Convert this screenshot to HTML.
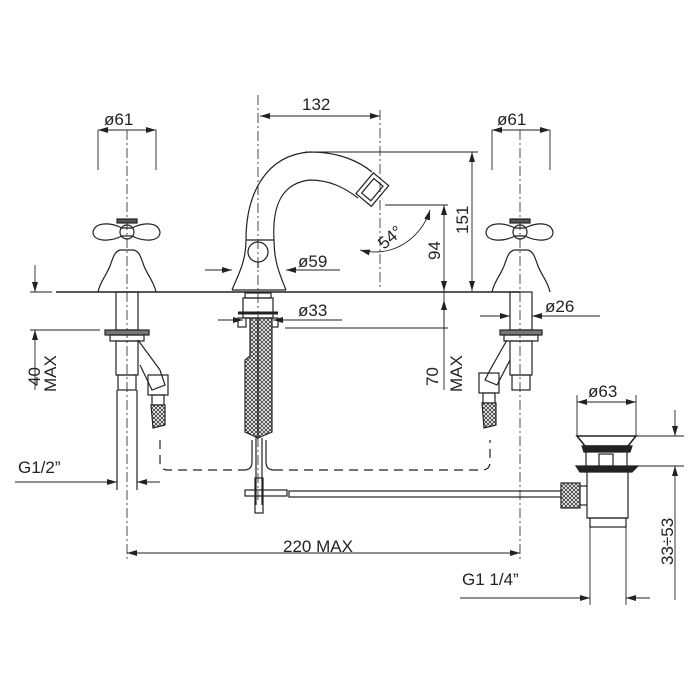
<!DOCTYPE html>
<html><head><style>body{margin:0;background:#fff}svg{display:block}text{font-family:"Liberation Sans",sans-serif;font-size:17px;fill:#222}</style></head><body>
<svg width="700" height="700" viewBox="0 0 700 700" xmlns="http://www.w3.org/2000/svg">
<defs>
<marker id="a" viewBox="0 0 10 6" refX="10" refY="3" markerWidth="10" markerHeight="6" orient="auto-start-reverse" markerUnits="userSpaceOnUse"><path d="M0,0L10,3L0,6z" fill="#222"/></marker>
<pattern id="h" width="4" height="4" patternUnits="userSpaceOnUse"><rect width="4" height="4" fill="#fff"/><path d="M0,0L4,4M4,0L0,4" stroke="#333" stroke-width="0.8"/></pattern>
</defs>
<g fill="none" stroke="#222" stroke-width="1.2">
<line x1="56" y1="292" x2="520" y2="292" stroke-width="1.6"/>
<g stroke-dasharray="10,3,2,3" stroke-width="0.8">
<line x1="127" y1="130" x2="127" y2="560"/><line x1="258" y1="95" x2="258" y2="500"/><line x1="520" y1="130" x2="520" y2="560"/><line x1="380" y1="110" x2="380" y2="290"/>
</g>
<!-- left tap -->
<path d="M98,292 C100,282 106,276 110,266 C113,258 114,252 120,250 L134,250 C140,252 141,258 144,266 C148,276 154,282 156,292"/>
<path d="M122,228 C110,222 95,222 93,232 C93,242 110,242 122,236 L132,236 C144,242 160,242 160,232 C158,222 144,222 132,228 Z"/>
<circle cx="127" cy="232" r="7"/><rect x="117" y="219" width="20" height="4" fill="#555"/>
<rect x="116" y="292" width="22" height="38"/><rect x="105" y="330" width="44" height="5" fill="#777"/>
<rect x="110" y="335" width="34" height="6"/><rect x="116" y="341" width="22" height="34"/><rect x="118" y="375" width="18" height="15"/>
<line x1="117" y1="390" x2="117" y2="490"/><line x1="137" y1="390" x2="137" y2="490"/>
<path d="M138,340 L160,370 L165,385 L152,390 L140,365"/>
<rect x="148" y="375" width="20" height="20"/><rect x="152" y="395" width="12" height="10"/>
<path d="M151,405 L165,405 L165,425 L153,428Z" fill="url(#h)"/>
<!-- right tap -->
<path d="M492,292 C494,282 500,276 504,266 C507,258 508,252 514,250 L528,250 C534,252 535,258 538,266 C542,276 548,282 550,292"/>
<path d="M515,228 C503,222 488,222 486,232 C486,242 503,242 515,236 L525,236 C537,242 553,242 553,232 C551,222 537,222 525,228 Z"/>
<circle cx="520" cy="232" r="7"/><rect x="510" y="219" width="20" height="4" fill="#555"/>
<rect x="510" y="292" width="22" height="38"/><rect x="500" y="330" width="42" height="5" fill="#777"/>
<rect x="504" y="335" width="34" height="6"/><rect x="510" y="341" width="22" height="34"/><rect x="512" y="375" width="18" height="15"/>
<path d="M507,340 L490,370 L485,380 L497,385 L510,360"/>
<rect x="479" y="373" width="20" height="20"/><rect x="483" y="393" width="12" height="10"/>
<path d="M482,403 L496,403 L496,425 L484,428Z" fill="url(#h)"/>
<!-- center faucet -->
<path d="M232,290 C238,275 246,262 246,240 C246,195 265,155 310,152 C340,152 360,162 372,172"/>
<path d="M286,290 C280,275 274,262 274,240 C272,205 282,183 310,180 C330,180 345,188 358,198"/>
<line x1="232" y1="290" x2="286" y2="290"/><line x1="246" y1="240" x2="274" y2="240"/>
<circle cx="258" cy="252" r="10"/><line x1="258" y1="262" x2="258" y2="268"/>
<g transform="rotate(-50 372 190)"><rect x="359" y="180" width="27" height="20"/><rect x="363" y="184" width="19" height="12"/></g>
<rect x="245" y="293" width="26" height="5"/><rect x="243" y="298" width="30" height="20"/>
<line x1="238" y1="313" x2="278" y2="313" stroke-width="3"/>
<rect x="238" y="318" width="8" height="9"/><rect x="270" y="318" width="8" height="9"/>
<path d="M245,318 L258,318 L258,438 L245,432 L245,360 L250,356 L250,318Z" fill="url(#h)"/>
<path d="M258,318 L272,318 L272,432 L258,438Z" fill="url(#h)"/>
<line x1="256" y1="438" x2="256" y2="505"/><line x1="262" y1="438" x2="262" y2="505"/>
<path d="M252,440 L252,462 Q252,470 244,470"/><path d="M266,440 L266,462 Q266,470 274,470"/>
<rect x="245" y="490" width="42" height="6"/><rect x="255" y="478" width="8" height="35"/>
<rect x="289" y="491" width="272" height="6"/>
<path d="M160,440 L160,462 Q160,470 168,470 L244,470" stroke-dasharray="9,6"/>
<path d="M274,470 L482,470 Q490,470 490,462 L490,440" stroke-dasharray="9,6"/>
<!-- popup -->
<path d="M577,436 L636,436 L628,446 L585,446Z" stroke-width="1.6"/>
<path d="M582,446 L632,446 L630,452 L584,452Z" fill="#222"/>
<line x1="586" y1="452" x2="586" y2="466"/><line x1="627" y1="452" x2="627" y2="466"/><rect x="599" y="454" width="14" height="12"/>
<path d="M576,466 L638,466 L632,472 L580,472Z" fill="#222"/>
<path d="M587,472 L587,518 L628,518 L628,472"/><rect x="590" y="518" width="36" height="9"/>
<rect x="561" y="483" width="19" height="25" fill="url(#h)"/><line x1="580" y1="486" x2="587" y2="486"/><line x1="580" y1="505" x2="587" y2="505"/>
</g>
<g fill="none" stroke="#222" stroke-width="0.9">
<line x1="98" y1="130" x2="98" y2="170"/><line x1="156" y1="130" x2="156" y2="170"/><line x1="98" y1="130" x2="156" y2="130" marker-start="url(#a)" marker-end="url(#a)"/>
<line x1="492" y1="130" x2="492" y2="170"/><line x1="550" y1="130" x2="550" y2="170"/><line x1="492" y1="130" x2="550" y2="130" marker-start="url(#a)" marker-end="url(#a)"/>
<line x1="260" y1="116" x2="380" y2="116" marker-start="url(#a)" marker-end="url(#a)"/>
<line x1="305" y1="152" x2="478" y2="152"/><line x1="472" y1="152" x2="472" y2="291" marker-start="url(#a)" marker-end="url(#a)"/>
<line x1="385" y1="205" x2="448" y2="205"/><line x1="444" y1="205" x2="444" y2="291" marker-start="url(#a)" marker-end="url(#a)"/>
<line x1="444" y1="291" x2="444" y2="390"/><line x1="444" y1="330" x2="444" y2="300" marker-end="url(#a)"/>
<line x1="285" y1="328" x2="448" y2="328"/>
<path d="M430,210 A60,60 0 0 1 390,250" marker-start="url(#a)"/><path d="M360,250 A60,60 0 0 0 390,250" marker-start="url(#a)"/>
<line x1="205" y1="270" x2="232" y2="270" marker-end="url(#a)"/><line x1="340" y1="270" x2="286" y2="270" marker-end="url(#a)"/>
<line x1="218" y1="320" x2="243" y2="320" marker-end="url(#a)"/><line x1="342" y1="320" x2="273" y2="320" marker-end="url(#a)"/>
<line x1="480" y1="316" x2="510" y2="316" marker-end="url(#a)"/><line x1="600" y1="316" x2="532" y2="316" marker-end="url(#a)"/>
<line x1="30" y1="292" x2="52" y2="292"/><line x1="30" y1="330" x2="100" y2="330"/>
<line x1="35" y1="265" x2="35" y2="292" marker-end="url(#a)"/><line x1="35" y1="390" x2="35" y2="330" marker-end="url(#a)"/>
<line x1="15" y1="482" x2="117" y2="482" marker-end="url(#a)"/><line x1="160" y1="482" x2="137" y2="482" marker-end="url(#a)"/>
<line x1="127" y1="553" x2="520" y2="553" marker-start="url(#a)" marker-end="url(#a)"/>
<line x1="577" y1="395" x2="577" y2="436"/><line x1="636" y1="395" x2="636" y2="436"/>
<line x1="577" y1="402" x2="636" y2="402" marker-start="url(#a)" marker-end="url(#a)"/>
<line x1="636" y1="436" x2="684" y2="436"/><line x1="638" y1="466" x2="684" y2="466"/>
<line x1="675" y1="410" x2="675" y2="436" marker-end="url(#a)"/><line x1="675" y1="600" x2="675" y2="466" marker-end="url(#a)"/>
<line x1="590" y1="527" x2="590" y2="605"/><line x1="626" y1="527" x2="626" y2="605"/>
<line x1="460" y1="598" x2="590" y2="598" marker-end="url(#a)"/><line x1="650" y1="598" x2="626" y2="598" marker-end="url(#a)"/>
</g>
<text x="104" y="125">ø61</text><text x="497" y="125">ø61</text><text x="302" y="110">132</text>
<text x="298" y="267">ø59</text><text x="298" y="316">ø33</text><text x="545" y="312">ø26</text>
<text x="588" y="397">ø63</text>
<text x="18" y="473">G1/2”</text><text x="283" y="552">220  MAX</text><text x="462" y="585">G1  1/4”</text>
<text transform="translate(384,250) rotate(-40)">54°</text>
<text transform="translate(468,234) rotate(-90)">151</text><text transform="translate(440,260) rotate(-90)">94</text>
<text transform="translate(40,386) rotate(-90)">40</text><text transform="translate(56,392) rotate(-90)">MAX</text>
<text transform="translate(438,386) rotate(-90)">70</text><text transform="translate(462,392) rotate(-90)">MAX</text>
<text transform="translate(673,565) rotate(-90)">33÷53</text>
</svg>
</body></html>
